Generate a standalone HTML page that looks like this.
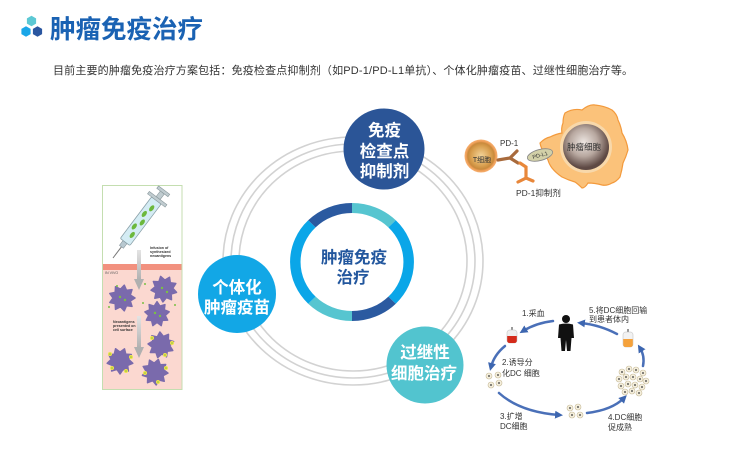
<!DOCTYPE html>
<html><head><meta charset="utf-8">
<style>
html,body{margin:0;padding:0;background:#fff;}
svg{display:block;}
text{font-family:"Liberation Sans","Noto Sans CJK SC",sans-serif;}
</style></head><body>
<svg width="730" height="449" viewBox="0 0 730 449" xmlns="http://www.w3.org/2000/svg">
<defs>
  <radialGradient id="tcell" cx="50%" cy="50%" r="50%">
    <stop offset="0%" stop-color="#f3d49a"/>
    <stop offset="60%" stop-color="#d9a050"/>
    <stop offset="80%" stop-color="#c98a3c"/>
    <stop offset="90%" stop-color="#f0a05a"/>
    <stop offset="100%" stop-color="#f5b070"/>
  </radialGradient>
  <radialGradient id="tumor" cx="45%" cy="40%" r="55%">
    <stop offset="0%" stop-color="#ede6e2"/>
    <stop offset="55%" stop-color="#b8a8a0"/>
    <stop offset="100%" stop-color="#5e4944"/>
  </radialGradient>
  <linearGradient id="garrow" x1="0" y1="0" x2="0" y2="1">
    <stop offset="0%" stop-color="#e4e4e4"/>
    <stop offset="100%" stop-color="#b0b0b0"/>
  </linearGradient>
  <marker id="ah" markerUnits="userSpaceOnUse" markerWidth="8" markerHeight="8" refX="4" refY="4" viewBox="0 0 8 8" orient="auto">
    <path d="M0,0 L8,4 L0,8 z" fill="#3d66b0"/>
  </marker>
  <polygon id="blob" points="13,0 8.3,3 10,8.4 4.5,7.7 2.3,12.8 -1.5,8.8 -6.5,11.3 -6.8,5.7 -12.2,4.5 -9,0 -12.2,-4.5 -6.8,-5.7 -6.5,-11.3 -1.5,-8.8 2.3,-12.8 4.5,-7.7 10,-8.4 8.3,-3" fill="#7a6aac" stroke="#7a6aac" stroke-width="1.5" stroke-linejoin="round"/>
  <g id="dc">
    <circle r="3" fill="#f4eedc" stroke="#c8bc9a" stroke-width="0.6"/>
    <circle r="0.9" fill="#333"/>
  </g>
</defs>
<rect width="730" height="449" fill="#fff"/>

<!-- header icon -->
<polygon points="31.5,15.8 36.1,18.4 36.1,23.6 31.5,26.2 26.9,23.6 26.9,18.4" fill="#5cc8d4"/>
<polygon points="26,26.3 30.6,28.9 30.6,34.1 26,36.7 21.4,34.1 21.4,28.9" fill="#1aa6e8"/>
<polygon points="37.5,26.3 42.1,28.9 42.1,34.1 37.5,36.7 32.9,34.1 32.9,28.9" fill="#2a56a0"/>
<text x="50" y="38" font-size="25.5" font-weight="700" fill="#1a62b3" textLength="153">肿瘤免疫治疗</text>
<text x="53" y="74" font-size="11" fill="#333" textLength="580">目前主要的肿瘤免疫治疗方案包括：免疫检查点抑制剂（如PD-1/PD-L1单抗）、个体化肿瘤疫苗、过继性细胞治疗等。</text>

<!-- big rings -->
<g fill="none" stroke="#d2d2d2" stroke-width="1.6">
  <ellipse cx="353" cy="261" rx="130" ry="124"/>
  <ellipse cx="353" cy="261" rx="122" ry="117"/>
  <ellipse cx="353" cy="261" rx="114" ry="110"/>
</g>

<!-- center ring -->
<g transform="translate(352,262) scale(1.05,1)" fill="none" stroke-width="10">
  <path d="M0,-54 A54,54 0 0 1 38.18,-38.18" stroke="#56c5d0"/>
  <path d="M38.18,-38.18 A54,54 0 0 1 38.18,38.18" stroke="#0aa6e8"/>
  <path d="M38.18,38.18 A54,54 0 0 1 0,54" stroke="#2b5aa0"/>
  <path d="M0,54 A54,54 0 0 1 -38.18,38.18" stroke="#56c5d0"/>
  <path d="M-38.18,38.18 A54,54 0 0 1 -38.18,-38.18" stroke="#0aa6e8"/>
  <path d="M-38.18,-38.18 A54,54 0 0 1 0,-54" stroke="#2b5aa0"/>
</g>
<g font-size="16.5" font-weight="700" fill="#23579e" text-anchor="middle">
  <text x="354" y="263">肿瘤免疫</text>
  <text x="353" y="283">治疗</text>
</g>

<!-- nodes -->
<circle cx="384" cy="149" r="40.5" fill="#2b5597"/>
<circle cx="237" cy="294" r="39" fill="#12a7e6"/>
<circle cx="425" cy="365" r="38.5" fill="#52c4cf"/>
<g font-size="16.5" font-weight="700" fill="#fff" text-anchor="middle">
  <text x="384.5" y="136">免疫</text>
  <text x="384.5" y="157">检查点</text>
  <text x="384.5" y="177">抑制剂</text>
  <text x="237" y="293">个体化</text>
  <text x="237" y="313">肿瘤疫苗</text>
  <text x="425" y="358">过继性</text>
  <text x="424" y="379">细胞治疗</text>
</g>

<!-- syringe panel -->
<rect x="102.5" y="185.5" width="79.5" height="204" fill="#fff" stroke="#c4deb0" stroke-width="1"/>
<rect x="103" y="270" width="78.5" height="119" fill="#fbd8d0"/>
<rect x="103" y="264" width="78.5" height="6" fill="#f2917f"/>
<g transform="translate(113,258) rotate(-53)">
  <line x1="0" y1="0" x2="15" y2="0" stroke="#777" stroke-width="1"/>
  <rect x="14" y="-2.5" width="6" height="5" fill="#b8c8d0" stroke="#7a8a90" stroke-width="0.5"/>
  <rect x="20" y="-6" width="52" height="12" rx="1.5" fill="#d4ecf4" stroke="#8aa0a8" stroke-width="0.8"/>
  <ellipse cx="30" cy="1.5" rx="3.5" ry="2" fill="#6cb83c"/>
  <ellipse cx="38" cy="-2" rx="3.5" ry="2" fill="#6cb83c"/>
  <ellipse cx="46" cy="2" rx="3.5" ry="2" fill="#6cb83c"/>
  <ellipse cx="54" cy="-1.5" rx="3.5" ry="2" fill="#6cb83c"/>
  <ellipse cx="63" cy="1" rx="3.5" ry="2" fill="#6cb83c"/>
  <rect x="72" y="-11" width="3" height="22" fill="#c0ccd0" stroke="#8a989c" stroke-width="0.6"/>
  <rect x="75" y="-2.5" width="7" height="5" fill="#c0ccd0" stroke="#8a989c" stroke-width="0.6"/>
  <rect x="82" y="-7" width="3" height="14" fill="#c0ccd0" stroke="#8a989c" stroke-width="0.6"/>
</g>
<rect x="137" y="250" width="4" height="30" fill="url(#garrow)"/>
<polygon points="134,279 144,279 139,290" fill="#b0b0b0"/>
<rect x="137" y="316" width="4" height="32" fill="url(#garrow)"/>
<polygon points="134,347 144,347 139,358" fill="#b0b0b0"/>
<g font-size="3.6" font-weight="700" fill="#333">
  <text x="150" y="249">Infusion of</text>
  <text x="150" y="253">synthesized</text>
  <text x="150" y="257">neoantigens</text>
  <text x="113" y="323">Neoantigens</text>
  <text x="113" y="327">presented on</text>
  <text x="113" y="331">cell surface</text>
</g>
<text x="105" y="274" font-size="3.6" fill="#555">IN VIVO</text>
<use href="#blob" transform="translate(122,298)"/>
<use href="#blob" transform="translate(164,289) rotate(15)"/>
<use href="#blob" transform="translate(157,314) rotate(30) scale(0.95)"/>
<use href="#blob" transform="translate(120,361) rotate(10)"/>
<use href="#blob" transform="translate(161,345) rotate(25)"/>
<use href="#blob" transform="translate(155,372) rotate(5)"/>
<g fill="#7ac143">
  <circle cx="120" cy="297" r="1.2"/><circle cx="125" cy="300" r="1.2"/>
  <circle cx="162" cy="288" r="1.2"/><circle cx="167" cy="292" r="1.2"/>
  <circle cx="155" cy="313" r="1.2"/><circle cx="160" cy="316" r="1.2"/>
  <circle cx="117" cy="286" r="1"/><circle cx="145" cy="284" r="1"/>
  <circle cx="109" cy="307" r="1"/><circle cx="175" cy="305" r="1"/>
  <circle cx="143" cy="303" r="1"/>
</g>
<g fill="#f2e34c">
  <circle cx="110" cy="354" r="2"/><circle cx="131" cy="357" r="2"/><circle cx="126" cy="371" r="2"/><circle cx="112" cy="368" r="2"/>
  <circle cx="152" cy="338" r="2"/><circle cx="172" cy="343" r="2"/><circle cx="165" cy="355" r="2"/>
  <circle cx="145" cy="373" r="2"/><circle cx="166" cy="368" r="2"/><circle cx="158" cy="382" r="2"/>
</g>
<g fill="#7ac143">
  <circle cx="110" cy="354" r="0.8"/><circle cx="131" cy="357" r="0.8"/><circle cx="126" cy="371" r="0.8"/><circle cx="112" cy="368" r="0.8"/>
  <circle cx="152" cy="338" r="0.8"/><circle cx="172" cy="343" r="0.8"/><circle cx="165" cy="355" r="0.8"/>
  <circle cx="145" cy="373" r="0.8"/><circle cx="166" cy="368" r="0.8"/><circle cx="158" cy="382" r="0.8"/>
</g>

<!-- PD-1 illustration -->
<path d="M565,113 Q573,108 582,110 Q589,104 595,105 Q605,106 612,110 Q617,114 618,120 Q621,126 622,133 Q627,141 628,150 Q626,157 623,163 Q622,170 620,177 Q616,182 612,183 Q607,186 602,185 Q595,183 588,183 Q585,188 582,188 Q578,184 575,182 Q568,180 562,177 Q556,173 552,168 Q549,164 548,160 Q546,157 545,153 Q541,149 540,143 Q545,138 550,137 Q556,134 562,133 Q561,128 563,123 Q563,117 565,113 Z" fill="#fbc27a" stroke="#f39a3c" stroke-width="1.2"/>
<circle cx="586" cy="147" r="26" fill="#f8d8aa"/>
<circle cx="586" cy="147" r="23" fill="url(#tumor)"/>
<text x="584" y="150" font-size="8.5" fill="#333" text-anchor="middle">肿瘤细胞</text>
<circle cx="481" cy="156" r="16.5" fill="url(#tcell)"/>
<text x="482" y="162" font-size="7" fill="#333" text-anchor="middle">T细胞</text>
<g stroke="#a86a3c" stroke-width="3.2" stroke-linecap="round" fill="none">
  <path d="M498,160 L510,158 L517,151"/>
  <path d="M510,158 L518,163"/>
</g>
<g stroke="#e8873a" stroke-width="3.2" stroke-linecap="round" fill="none">
  <path d="M520,163 L526,167 L526,178 L518,182"/>
  <path d="M526,178 L533,181"/>
</g>
<ellipse cx="540" cy="155" rx="13" ry="5.5" transform="rotate(-15 540 155)" fill="#d2d0a8" stroke="#888" stroke-width="0.8"/>
<text x="540" y="157" font-size="5.5" fill="#333" text-anchor="middle" transform="rotate(-15 540 155)">PD-L1</text>
<text x="500" y="146" font-size="8" fill="#333">PD-1</text>
<text x="516" y="196" font-size="8.5" fill="#333">PD-1抑制剂</text>

<!-- DC cycle -->
<g fill="none" stroke="#4a70b8" stroke-width="2.5" stroke-linecap="round">
  <path d="M553,321 Q536,323 523,331" marker-end="url(#ah)"/>
  <path d="M505,346 Q494,355 491,367" marker-end="url(#ah)"/>
  <path d="M499,393 Q520,412 559,415" marker-end="url(#ah)"/>
  <path d="M587,413 Q612,410 624,398" marker-end="url(#ah)"/>
  <path d="M643,366 Q645,356 640,348" marker-end="url(#ah)"/>
  <path d="M617,334 Q600,325 581,323" marker-end="url(#ah)"/>
</g>
<!-- person -->
<circle cx="566" cy="319" r="4" fill="#111"/>
<path d="M559,324.5 Q566,322.5 573,324.5 L574,338 L571.5,338 L570.5,351 L567,351 L566,340 L565,351 L561.5,351 L560.5,338 L558,338 Z" fill="#111"/>
<!-- bags -->
<rect x="511" y="327" width="2" height="4" fill="#999"/>
<rect x="507" y="330" width="10" height="13" rx="2.5" fill="#eee" stroke="#bbb" stroke-width="0.5"/>
<path d="M507.2,336 L516.8,336 L516.8,340.5 Q516.8,343 514.3,343 L509.7,343 Q507.2,343 507.2,340.5 Z" fill="#d42a1a"/>
<rect x="627" y="329" width="2" height="4" fill="#999"/>
<rect x="623" y="332" width="10" height="15" rx="2.5" fill="#f2f2f2" stroke="#bbb" stroke-width="0.5"/>
<path d="M623.2,339 L632.8,339 L632.8,344.5 Q632.8,347 630.3,347 L625.7,347 Q623.2,347 623.2,344.5 Z" fill="#f5a23c"/>
<!-- cells -->
<use href="#dc" x="489" y="376"/><use href="#dc" x="498" y="375"/><use href="#dc" x="491" y="385"/><use href="#dc" x="499" y="383"/>
<use href="#dc" x="570" y="408"/><use href="#dc" x="578" y="407"/><use href="#dc" x="572" y="415"/><use href="#dc" x="580" y="415"/>
<use href="#dc" x="622" y="372"/><use href="#dc" x="629" y="369"/><use href="#dc" x="636" y="370"/><use href="#dc" x="643" y="373"/>
<use href="#dc" x="619" y="379"/><use href="#dc" x="626" y="377"/><use href="#dc" x="633" y="377"/><use href="#dc" x="640" y="379"/>
<use href="#dc" x="646" y="381"/><use href="#dc" x="621" y="386"/><use href="#dc" x="628" y="384"/><use href="#dc" x="635" y="385"/>
<use href="#dc" x="642" y="387"/><use href="#dc" x="625" y="392"/><use href="#dc" x="632" y="391"/><use href="#dc" x="639" y="393"/>
<g font-size="8" fill="#333">
  <text x="522" y="316">1.采血</text>
  <text x="589" y="313">5.将DC细胞回输</text>
  <text x="589" y="322">到患者体内</text>
  <text x="502" y="365">2.诱导分</text>
  <text x="502" y="376">化DC 细胞</text>
  <text x="500" y="419">3.扩增</text>
  <text x="500" y="429">DC细胞</text>
  <text x="608" y="420">4.DC细胞</text>
  <text x="608" y="430">促成熟</text>
</g>
</svg>
</body></html>
